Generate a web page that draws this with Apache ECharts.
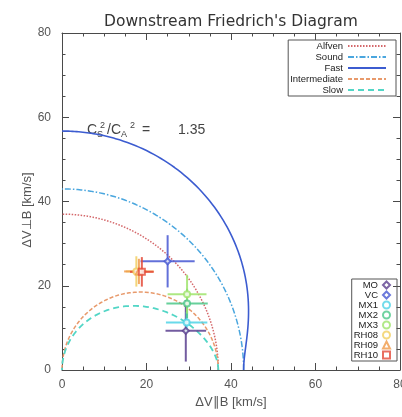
<!DOCTYPE html>
<html>
<head>
<meta charset="utf-8">
<script src="https://cdn.jsdelivr.net/npm/echarts@6/dist/echarts.min.js"></script>
<style>
  html, body { margin: 0; padding: 0; background: #fff; }
  #chart { width: 402px; height: 417px; }
</style>
</head>
<body>
<div id="chart"></div>
<script>
// Downstream plasma parameters
const alfvenSpeed = 37;           // C_A in km/s
const soundToAlfvenRatio = 1.35;  // C_S^2 / C_A^2

// Axis ticks (km/s)
const axisTicks = [0, 20, 40, 60, 80];

// Wave-mode curves shown in the diagram
const curveNames = ['Alfven', 'Sound', 'Fast', 'Intermediate', 'Slow'];

// Measured velocity jumps: parallel / perpendicular to B, with uncertainties
const pointNames = ['MO', 'VC', 'MX1', 'MX2', 'MX3', 'RH08', 'RH09', 'RH10'];
const dvParallel      = [29.3, 25.0, 29.5, 29.6, 29.6, 17.6, 18.2, 18.9];
const dvPerpendicular = [9.3, 25.8, 11.3, 15.8, 18.0, 23.4, 23.4, 23.3];
const dvParallelErr   = [4.8, 6.4, 4.9, 4.9, 4.6, 2.5, 3.5, 2.8];
const dvPerpErr       = [7.3, 6.2, 2.5, 3.5, 4.6, 3.6, 3.0, 3.5];

// ---- styling ----
const pointColors = ['#5b3f8f', '#4657d2', '#4fd3e6', '#4cc88a', '#9fe46c', '#f1cf62', '#f09a4a', '#e44a38'];
const pointSymbols = ['emptyDiamond', 'emptyDiamond', 'emptyCircle', 'emptyCircle', 'emptyCircle', 'emptyCircle', 'emptyTriangle', 'emptyRect'];
const curveStyles = {
  Alfven:       { color: '#d4676a', width: 1.5, type: [1.5, 1.5] },
  Sound:        { color: '#4aa6de', width: 1.5, type: [6, 2, 1.5, 2] },
  Fast:         { color: '#3c5cd0', width: 1.6, type: 'solid' },
  Intermediate: { color: '#e89a6c', width: 1.5, type: [4, 2] },
  Slow:         { color: '#52d6c6', width: 1.8, type: [6, 4] }
};

// Phase speed of each mode as a function of angle to B (Friedrichs polar diagram)
const cA = alfvenSpeed;
const cS = alfvenSpeed * Math.sqrt(soundToAlfvenRatio);
const sumSq = cA * cA + cS * cS;
const magnetosonic = (th, sign) => {
  const c2 = Math.cos(th) ** 2;
  const disc = Math.sqrt(Math.max(sumSq * sumSq - 4 * cA * cA * cS * cS * c2, 0));
  return Math.sqrt(Math.max((sumSq + sign * disc) / 2, 0));
};
const modeSpeed = {
  Alfven: () => cA,
  Sound: () => cS,
  Fast: th => magnetosonic(th, 1),
  Intermediate: th => cA * Math.abs(Math.cos(th)),
  Slow: th => magnetosonic(th, -1)
};
const anglesDeg = [];
for (let a = 0; a <= 90; a += 0.5) anglesDeg.push(a);
function polarCurve(name) {
  return anglesDeg.map(a => {
    const th = a * Math.PI / 180;
    const v = modeSpeed[name](th);
    return [v * Math.cos(th), v * Math.sin(th)];
  });
}

const chart = echarts.init(document.getElementById('chart'));
const axisColor = '#4a4a4a';
const labelFont = 'Liberation Sans, Arial, sans-serif';

function makeAxis(extra) {
  return Object.assign({
    type: 'value',
    min: axisTicks[0],
    max: axisTicks[axisTicks.length - 1],
    interval: axisTicks[1] - axisTicks[0],
    axisLine: { show: true, onZero: false, lineStyle: { color: axisColor, width: 1 } },
    axisTick: { show: true, inside: true, length: 7, lineStyle: { color: axisColor } },
    minorTick: { show: true, splitNumber: 4, length: 3.5, lineStyle: { color: axisColor } },
    splitLine: { show: false },
    minorSplitLine: { show: false },
    axisLabel: { color: '#555', fontSize: 12, fontFamily: labelFont }
  }, extra);
}

const series = [];
curveNames.forEach(name => {
  const st = curveStyles[name];
  series.push({
    name: name,
    type: 'line',
    data: polarCurve(name),
    symbol: 'none',
    showSymbol: false,
    clip: true,
    lineStyle: { color: st.color, width: st.width, type: st.type },
    itemStyle: { color: st.color },
    z: 2
  });
});

// Error-bar crosses
pointNames.forEach((name, i) => {
  series.push({
    type: 'custom',
    name: name + ' error',
    data: [[dvParallel[i], dvPerpendicular[i], dvParallelErr[i], dvPerpErr[i]]],
    encode: { x: 0, y: 1 },
    renderItem: (params, api) => {
      const x = api.value(0), y = api.value(1), ex = api.value(2), ey = api.value(3);
      const l = api.coord([x - ex, y]), r = api.coord([x + ex, y]);
      const t = api.coord([x, y + ey]), b = api.coord([x, y - ey]);
      const style = { stroke: pointColors[i], lineWidth: 2, opacity: 0.85 };
      return {
        type: 'group',
        children: [
          { type: 'line', shape: { x1: l[0], y1: l[1], x2: r[0], y2: r[1] }, style: style },
          { type: 'line', shape: { x1: t[0], y1: t[1], x2: b[0], y2: b[1] }, style: style }
        ]
      };
    },
    z: 3,
    silent: true
  });
});

// Centre markers
pointNames.forEach((name, i) => {
  series.push({
    name: name,
    type: 'scatter',
    data: [[dvParallel[i], dvPerpendicular[i]]],
    symbol: pointSymbols[i],
    symbolSize: 6,
    itemStyle: { color: pointColors[i], borderWidth: 1.5 },
    z: 4
  });
});

const option = {
  backgroundColor: '#fff',
  animation: false,
  title: {
    text: "Downstream Friedrich's Diagram",
    left: 99,
    top: 9,
    textStyle: { fontFamily: 'DejaVu Sans, sans-serif', fontSize: 15.5, fontWeight: 'normal', color: '#333' }
  },
  grid: { left: 62, right: 2, top: 33, bottom: 47, containLabel: false, outerBoundsMode: 'none' },
  xAxis: [
    makeAxis({
      position: 'bottom',
      name: 'ΔV∥B [km/s]',
      nameLocation: 'middle',
      nameGap: 25,
      nameTextStyle: { color: '#555', fontSize: 13, fontFamily: labelFont },
      axisLabel: { color: '#555', fontSize: 12, fontFamily: labelFont, margin: 9 }
    }),
    makeAxis({ position: 'top', axisLabel: { show: false } })
  ],
  yAxis: [
    makeAxis({
      position: 'left',
      axisLabel: { color: '#555', fontSize: 12, fontFamily: labelFont, margin: 11 }
    }),
    makeAxis({ position: 'right', axisLabel: { show: false } })
  ],
  legend: [
    {
      data: curveNames,
      orient: 'vertical',
      align: 'right',
      right: 6,
      top: 40,
      itemWidth: 38,
      itemHeight: 6,
      itemGap: 1,
      padding: [1, 9, 1, 2],
      borderColor: '#555',
      borderWidth: 1,
      selectedMode: false,
      itemStyle: { opacity: 0 },
      textStyle: { fontSize: 9.5, lineHeight: 10, color: '#222', fontFamily: labelFont }
    },
    {
      data: pointNames,
      orient: 'vertical',
      align: 'right',
      right: 5,
      top: 279,
      itemWidth: 7,
      itemHeight: 7,
      itemGap: 0,
      padding: [1, 6, 1, 2],
      borderColor: '#555',
      borderWidth: 1,
      selectedMode: false,
      textStyle: { fontSize: 9.5, lineHeight: 8, color: '#222', fontFamily: labelFont }
    }
  ],
  graphic: [
    {
      type: 'text',
      x: 27,
      y: 210,
      rotation: Math.PI / 2,
      style: {
        text: 'ΔV⊥B [km/s]',
        fontSize: 13,
        fill: '#555',
        fontFamily: labelFont,
        align: 'center',
        verticalAlign: 'middle'
      }
    },
    {
      type: 'group',
      left: 87,
      top: 121,
      children: [
        { type: 'text', x: 0, y: 2, style: { text: 'C', fontSize: 14, fill: '#444', fontFamily: labelFont } },
        { type: 'text', x: 10, y: 9, style: { text: 'S', fontSize: 9, fill: '#444', fontFamily: labelFont } },
        { type: 'text', x: 13, y: 0, style: { text: '2', fontSize: 9, fill: '#444', fontFamily: labelFont } },
        { type: 'text', x: 20, y: 2, style: { text: '/C', fontSize: 14, fill: '#444', fontFamily: labelFont } },
        { type: 'text', x: 34, y: 9, style: { text: 'A', fontSize: 9, fill: '#444', fontFamily: labelFont } },
        { type: 'text', x: 43, y: 0, style: { text: '2', fontSize: 9, fill: '#444', fontFamily: labelFont } },
        { type: 'text', x: 55, y: 2, style: { text: '=', fontSize: 14, fill: '#444', fontFamily: labelFont } },
        { type: 'text', x: 91, y: 2, style: { text: String(soundToAlfvenRatio), fontSize: 14, fill: '#444', fontFamily: labelFont } }
      ]
    }
  ],
  series: series
};

chart.setOption(option);
</script>
</body>
</html>
